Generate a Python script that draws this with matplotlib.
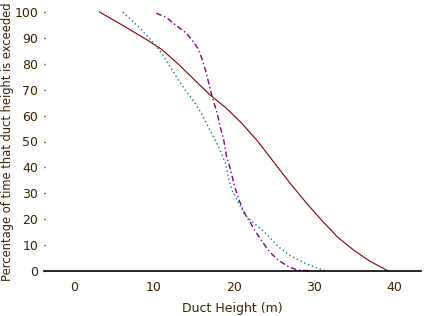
import matplotlib
matplotlib.use("Agg")
import matplotlib.pyplot as plt

TEXT_COLOR = "#3a2200"

# solid maroon curve
red_x = [3.2, 6, 9, 11, 13, 15, 17, 19, 21, 23, 25, 27, 29, 31, 33, 35, 37, 39.3]
red_y = [100, 95, 89.5, 85.5, 80, 74, 68, 63, 57, 50, 42, 34, 26.5, 19.5, 13, 8, 3.8, 0]

# dotted teal curve
teal_x = [6.1, 8, 10, 11, 12, 13, 14, 15, 16, 17, 18, 18.9, 19.4, 19.8, 20.4,
          21.4, 22.3, 24, 25.6, 27, 28.9, 30.5, 31.6]
teal_y = [100, 94.5, 88, 84, 79, 74, 69.5, 65.5, 60.5, 54.5, 48.5, 42, 35, 31, 27.4,
          21.6, 19, 14.5, 9.3, 6, 3, 1, 0]

# dash-dot purple curve
purple_x = [10.3, 11.5, 12.9, 14, 14.8, 15.5, 16, 16.5, 16.9, 17.3, 17.9, 18.3, 18.7,
            19.1, 19.5, 20.1, 20.7, 21.3, 22, 22.6, 23.5, 24.5, 25.5, 26.9, 28, 29.7]
purple_y = [99.5, 98, 94.5, 92, 89, 86, 82, 77, 72, 67, 61, 55.5, 51,
            44, 40, 32.5, 27, 22.5, 19, 15.8, 11.5, 7.3, 4.3, 1.5, 0.4, 0]

x_ticks = [0, 10, 20, 30, 40]
y_ticks = [0, 10, 20, 30, 40, 50, 60, 70, 80, 90, 100]

fig = plt.figure(figsize=(4.24, 3.16), dpi=100)
ax = fig.add_axes([44 / 424, 45 / 316, 377 / 424, 259 / 316])

ax.plot(red_x, red_y, color="#800000", lw=0.8, clip_on=False)
ax.plot(teal_x, teal_y, color="#008080", lw=1.0, linestyle=(0, (1, 2)), clip_on=False)
ax.plot(purple_x, purple_y, color="#800080", lw=1.0, linestyle=(0, (4, 2, 1, 2)), clip_on=False)

ax.set_xlim(-3.75, 43.4)
ax.set_ylim(0, 100)

for s in ["top", "right", "left"]:
    ax.spines[s].set_visible(False)
ax.spines["bottom"].set_color("black")
ax.spines["bottom"].set_linewidth(1.2)

ax.set_xticks(x_ticks)
ax.set_yticks(y_ticks)
ax.tick_params(axis="x", length=0, pad=7, labelsize=9, labelcolor=TEXT_COLOR)
ax.tick_params(axis="y", length=1, width=1, direction="in", pad=4, labelsize=9,
               labelcolor=TEXT_COLOR, color="black")

ax.set_xlabel("Duct Height (m)", fontsize=9, color=TEXT_COLOR, labelpad=6)
ax.set_ylabel("Percentage of time that duct height is exceeded", fontsize=8.3,
              color=TEXT_COLOR, labelpad=2)
ax.yaxis.set_label_coords(-30 / 377, 0.5)

fig.savefig("out.png", dpi=100)
